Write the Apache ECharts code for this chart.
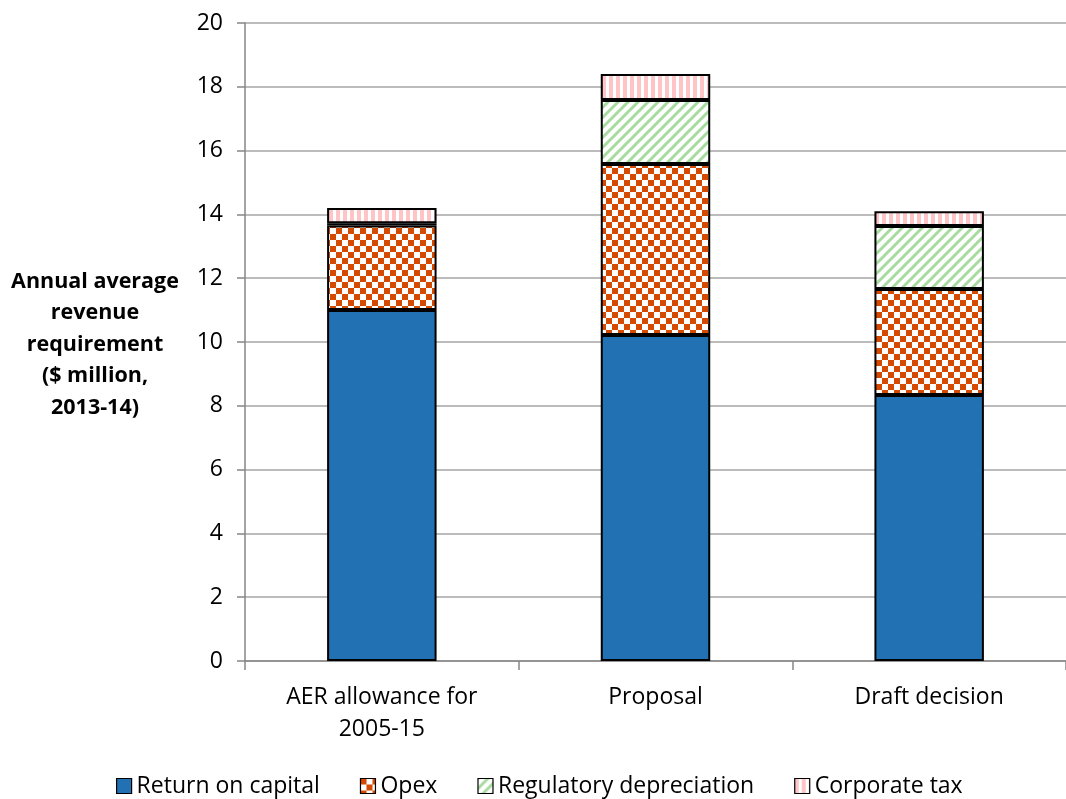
<!DOCTYPE html>
<html>
<head>
<meta charset="utf-8">
<script src="https://cdn.jsdelivr.net/npm/echarts@6/dist/echarts.min.js"></script>
<style>
  html, body { margin: 0; padding: 0; background: #fff; }
  #chart { width: 1066px; height: 799px; }
</style>
</head>
<body>
<div id="chart"></div>
<script>
// Annual average revenue requirement ($ million, 2013-14), by building block
const categories = ['AER allowance for\n2005-15', 'Proposal', 'Draft decision'];
const returnOnCapital = [11.0, 10.22, 8.34];
const opex = [2.65, 5.36, 3.32];
const regulatoryDepreciation = [0.07, 2.01, 1.98];
const corporateTax = [0.48, 0.81, 0.46];
const yTicks = { min: 0, max: 20, interval: 2 };

const FONT = '"Open Sans", Lato, sans-serif';
const FONT_SIZE = 23;

// Fill patterns for the hatched segments
function makePattern(w, h, draw) {
  const c = document.createElement('canvas');
  c.width = w; c.height = h;
  const ctx = c.getContext('2d');
  ctx.fillStyle = '#ffffff';
  ctx.fillRect(0, 0, w, h);
  draw(ctx);
  return { image: c, repeat: 'repeat' };
}

const checker = makePattern(12, 12, ctx => {
  ctx.fillStyle = '#d44a00';
  ctx.fillRect(0, 0, 6, 6);
  ctx.fillRect(6, 6, 6, 6);
});

const diagonal = makePattern(10, 10, ctx => {
  ctx.strokeStyle = '#a8dba0';
  ctx.lineWidth = 3;
  ctx.beginPath();
  ctx.moveTo(-2, 12); ctx.lineTo(12, -2);
  ctx.moveTo(-7, 7); ctx.lineTo(7, -7);
  ctx.moveTo(3, 17); ctx.lineTo(17, 3);
  ctx.stroke();
});

const vertical = makePattern(7, 7, ctx => {
  ctx.fillStyle = '#ffc4c6';
  ctx.fillRect(0, 0, 4, 7);
});

function barSeries(name, data, color) {
  return {
    name: name,
    type: 'bar',
    stack: 'total',
    barWidth: '40%',
    data: data,
    itemStyle: { color: color, borderColor: '#000000', borderWidth: 2 },
    emphasis: { disabled: true }
  };
}

const chart = echarts.init(document.getElementById('chart'), null, { renderer: 'canvas' });

chart.setOption({
  animation: false,
  backgroundColor: '#ffffff',
  grid: { left: 245, top: 23, width: 828, height: 638, containLabel: false },
  legend: {
    top: 773,
    left: 116,
    padding: 0,
    itemWidth: 15,
    itemHeight: 15,
    itemGap: 40,
    icon: 'rect',
    itemStyle: { borderColor: '#000', borderWidth: 1.2 },
    textStyle: { fontFamily: FONT, fontSize: FONT_SIZE, color: '#000', lineHeight: 26 },
    data: ['Return on capital', 'Opex', 'Regulatory depreciation', 'Corporate tax']
  },
  xAxis: {
    type: 'category',
    data: categories,
    axisLine: { lineStyle: { color: '#868686', width: 1.5 } },
    axisTick: { show: true, length: 9, lineStyle: { color: '#868686', width: 1.5 } },
    axisLabel: {
      fontFamily: FONT, fontSize: FONT_SIZE, color: '#000',
      margin: 20, lineHeight: 32, interval: 0
    }
  },
  yAxis: {
    type: 'value',
    min: yTicks.min,
    max: yTicks.max,
    interval: yTicks.interval,
    axisLine: { show: true, lineStyle: { color: '#868686', width: 1.5 } },
    axisTick: { show: true, length: 8, lineStyle: { color: '#868686', width: 1.5 } },
    axisLabel: { fontFamily: FONT, fontSize: FONT_SIZE, color: '#000', margin: 22 },
    splitLine: { lineStyle: { color: '#a6a6a6', width: 1.5 } }
  },
  graphic: [{
    type: 'text',
    x: 95,
    y: 266,
    style: {
      text: 'Annual average\nrevenue\nrequirement\n($ million,\n2013-14)',
      font: 'bold 21.5px ' + FONT,
      fill: '#000',
      align: 'center',
      verticalAlign: 'top',
      lineHeight: 31.5
    }
  }],
  series: [
    barSeries('Return on capital', returnOnCapital, '#2271b3'),
    barSeries('Opex', opex, checker),
    barSeries('Regulatory depreciation', regulatoryDepreciation, diagonal),
    barSeries('Corporate tax', corporateTax, vertical)
  ]
});
</script>
</body>
</html>
